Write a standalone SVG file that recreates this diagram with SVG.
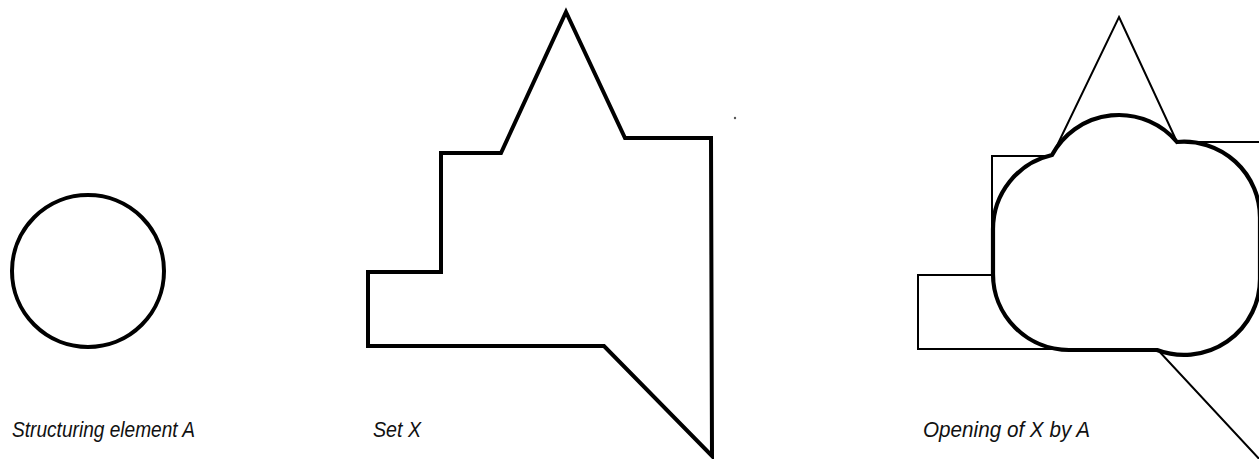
<svg xmlns="http://www.w3.org/2000/svg" width="1259" height="459" viewBox="0 0 1259 459">
  <style>
    .thick { fill: none; stroke: #000; stroke-width: 4; stroke-linejoin: miter; stroke-miterlimit: 10; }
    .thin { fill: none; stroke: #000; stroke-width: 2; stroke-linejoin: miter; }
    .cloud { fill: #fff; stroke: #000; stroke-width: 4.2; stroke-linejoin: miter; }
    .label { font-family: "Liberation Sans", Arial, sans-serif; font-style: italic; font-size: 22px; fill: #111; }
  </style>
  <rect width="1259" height="459" fill="#fff"/>

  <g id="structuring-element">
    <circle class="thick" cx="88" cy="271" r="76"/>
    <text class="label" x="12" y="437" textLength="183" lengthAdjust="spacingAndGlyphs">Structuring element A</text>
  </g>

  <g id="set-x">
    <polygon class="thick" points="566,12 625,138 711,138 712,456 604,346 368,346 368,272 441,272 441,153 501,153"/>
    <text class="label" x="373" y="437" textLength="48" lengthAdjust="spacingAndGlyphs">Set X</text>
  </g>

  <circle cx="735" cy="118" r="1.2" fill="#555"/>

  <g id="opening">
    <polygon class="thin" points="1119,17 1177,142 1262,142 1262,462 1157,349 918,349 918,275 992,275 992,156 1052,156"/>
    <path class="cloud" d="M 1052,155 A 76 76 0 0 1 1177,142 A 76 76 0 0 1 1260,218 L 1260,279 A 76 76 0 0 1 1157,350 L 1069,350 A 76 76 0 0 1 993,274 L 993,229 A 76 76 0 0 1 1052,155 Z"/>
    <text class="label" x="923" y="437" textLength="167" lengthAdjust="spacingAndGlyphs">Opening of X by A</text>
  </g>
</svg>
